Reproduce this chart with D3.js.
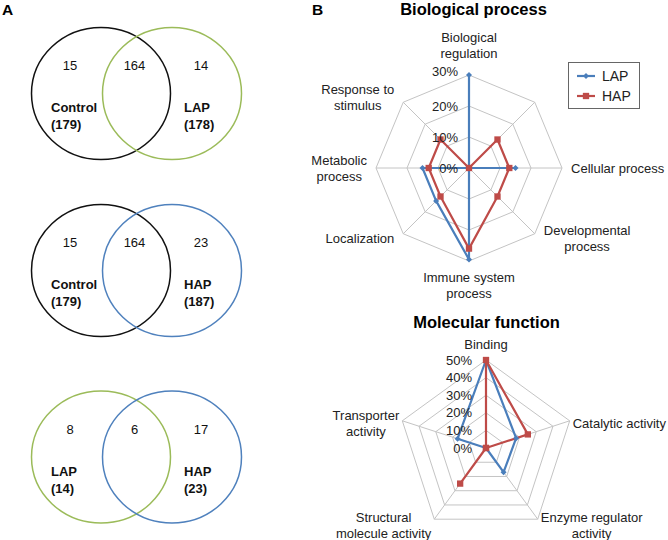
<!DOCTYPE html>
<html>
<head>
<meta charset="utf-8">
<script src="https://cdn.jsdelivr.net/npm/d3@7"></script>
<style>
  body { margin: 0; background: #fff; }
  svg { display: block; font-family: "Liberation Sans", Arial, sans-serif; }
</style>
</head>
<body>
<div id="chart"></div>
<script>
// ---- data ----
const vennLeftNames = ['Control', 'Control', 'LAP'];
const vennRightNames = ['LAP', 'HAP', 'HAP'];
const vennLeftTotals = [179, 179, 14];
const vennRightTotals = [178, 187, 23];
const vennCounts = [[15, 164, 14], [15, 164, 23], [8, 6, 17]];

const seriesNames = ['LAP', 'HAP'];

const bpCategories = [
  ['Biological', 'regulation'], [''], ['Cellular process'], ['Developmental', 'process'],
  ['Immune system', 'process'], ['Localization'], ['Metabolic', 'process'], ['Response to', 'stimulus']
];
const bpLAP = [30, 0, 15, 0, 29.5, 15, 15, 0];
const bpHAP = [0, 13, 13, 13, 26, 13, 13, 13];
const bpTicks = [0, 10, 20, 30];

const mfCategories = [
  ['Binding'], ['Catalytic activity'], ['Enzyme regulator', 'activity'],
  ['Structural', 'molecule activity'], ['Transporter', 'activity']
];
const mfLAP = [50, 18, 17, 0, 17];
const mfHAP = [50, 25, 0, 25, 0];
const mfTicks = [0, 10, 20, 30, 40, 50];

// ---- styles ----
const setColor = { Control: '#111', LAP: '#9bbb59', HAP: '#4f81bd' };
const seriesColor = { LAP: '#4a7ebb', HAP: '#be4b48' };
const gridColor = '#c4c4c4';

const width = 668, height = 540;
const svg = d3.select('#chart').append('svg')
  .attr('width', width).attr('height', height)
  .attr('viewBox', '0 0 ' + width + ' ' + height);

svg.append('text').attr('x', 2).attr('y', 15)
  .attr('font-size', 15.5).attr('font-weight', 'bold').text('A');
svg.append('text').attr('x', 312).attr('y', 15)
  .attr('font-size', 15.5).attr('font-weight', 'bold').text('B');

/**
 * Venn diagrams
 */
const vennCy = [93.5, 270.5, 457];
const cx1 = 101, cx2 = 172, rx = 69.5, ry = 66;

vennCounts.forEach((counts, i) => {
  const g = svg.append('g').attr('transform', 'translate(0,' + vennCy[i] + ')');
  const sets = [
    { name: vennLeftNames[i], total: vennLeftTotals[i], cx: cx1, tx: cx1 - 50 },
    { name: vennRightNames[i], total: vennRightTotals[i], cx: cx2, tx: cx2 + 12 }
  ];

  g.selectAll('ellipse')
    .data(sets)
    .enter()
    .append('ellipse')
    .attr('cx', d => d.cx)
    .attr('cy', 0)
    .attr('rx', rx)
    .attr('ry', ry)
    .attr('fill', 'none')
    .attr('stroke', d => setColor[d.name])
    .attr('stroke-width', 1.5);

  const countX = [cx1 - 31, (cx1 + cx2) / 2 - 2, cx2 + 29];
  g.selectAll('.count')
    .data(counts)
    .enter()
    .append('text')
    .attr('class', 'count')
    .attr('x', (d, k) => countX[k])
    .attr('y', -28 + 4.5)
    .attr('text-anchor', 'middle')
    .attr('font-size', 13)
    .attr('fill', '#111')
    .text(d => d);

  const lab = g.selectAll('.setlabel')
    .data(sets)
    .enter()
    .append('text')
    .attr('class', 'setlabel')
    .attr('font-size', 13)
    .attr('font-weight', 'bold')
    .attr('fill', '#111');
  lab.append('tspan').attr('x', d => d.tx).attr('y', 14 + 4.5).text(d => d.name);
  lab.append('tspan').attr('x', d => d.tx).attr('y', 31 + 4.5).text(d => '(' + d.total + ')');
});

/**
 * Radar charts
 */
function drawRadar(opts) {
  const n = opts.categories.length;
  const step = 2 * Math.PI / n;
  const maxV = d3.max(opts.ticks);
  const r = d3.scaleLinear().domain([0, maxV]).range([0, opts.radius]);
  const g = svg.append('g').attr('transform', 'translate(' + opts.cx + ',' + opts.cy + ')');

  svg.append('text')
    .attr('x', opts.titleX).attr('y', opts.titleY)
    .attr('text-anchor', 'middle')
    .attr('font-size', 16.5).attr('font-weight', 'bold')
    .text(opts.title);

  const idx = d3.range(n);
  const ring = v => d3.lineRadial()
    .angle(i => i * step)
    .radius(() => r(v))
    .curve(d3.curveLinearClosed)(idx);

  g.selectAll('.ring')
    .data(opts.ticks.filter(v => v > 0))
    .enter()
    .append('path')
    .attr('class', 'ring')
    .attr('d', ring)
    .attr('fill', 'none')
    .attr('stroke', gridColor)
    .attr('stroke-width', 1);

  g.selectAll('.spoke')
    .data(idx)
    .enter()
    .append('line')
    .attr('class', 'spoke')
    .attr('x1', 0).attr('y1', 0)
    .attr('x2', i => r(maxV) * Math.sin(i * step))
    .attr('y2', i => -r(maxV) * Math.cos(i * step))
    .attr('stroke', gridColor)
    .attr('stroke-width', 1);

  // category labels
  const lineH = 16;
  opts.categories.forEach((lines, i) => {
    const a = i * step;
    const sx = Math.sin(a), sy = -Math.cos(a);
    const vx = r(maxV) * sx, vy = r(maxV) * sy;
    const t = g.append('text')
      .attr('text-anchor', 'middle')
      .attr('font-size', 13)
      .attr('fill', '#222');
    lines.forEach((l, k) => t.append('tspan').attr('x', 0).attr('dy', k ? lineH : 0).text(l));
    const w = d3.max(t.selectAll('tspan').nodes(), nd => nd.getComputedTextLength()) || 0;
    const h = lines.length * lineH;
    let x, yTop;
    if (Math.abs(sx) < 0.1) {
      x = vx;
      yTop = sy < 0 ? vy - opts.gapTop - h : vy + opts.gapBottom;
    } else {
      x = vx + Math.sign(sx) * (opts.pad + w / 2);
      yTop = vy + sy * opts.vk + opts.vc - h / 2;
    }
    t.attr('transform', 'translate(' + x + ',' + (yTop + lineH / 2 + 4.5) + ')');
  });

  // series
  const series = [opts.lap, opts.hap];
  series.forEach((vals, s) => {
    const name = seriesNames[s];
    const line = d3.lineRadial()
      .angle((d, i) => i * step)
      .radius(d => r(d))
      .curve(d3.curveLinearClosed);
    g.append('path')
      .attr('d', line(vals))
      .attr('fill', 'none')
      .attr('stroke', seriesColor[name])
      .attr('stroke-width', 2.2)
      .attr('stroke-linejoin', 'round');
  });
  series.forEach((vals, s) => {
    const name = seriesNames[s];
    g.selectAll('.mk-' + name)
      .data(vals)
      .enter()
      .append('path')
      .attr('class', 'mk-' + name)
      .attr('d', d3.symbol(d3.symbolSquare, name === 'LAP' ? 18 : 40)())
      .attr('transform', (d, i) => 'translate(' + (r(d) * Math.sin(i * step)) + ',' +
        (-r(d) * Math.cos(i * step)) + ')' + (name === 'LAP' ? ' rotate(45)' : ''))
      .attr('fill', seriesColor[name]);
  });

  // tick labels
  g.selectAll('.tick')
    .data(opts.ticks)
    .enter()
    .append('text')
    .attr('class', 'tick')
    .attr('x', -opts.tickDx)
    .attr('y', d => -r(d) + 4.5 + (d === maxV ? opts.topTickDy : 0))
    .attr('text-anchor', 'end')
    .attr('font-size', 13)
    .attr('fill', '#222')
    .text(d => d + '%');
}

drawRadar({
  title: 'Biological process', titleX: 473.5, titleY: 15,
  categories: bpCategories, lap: bpLAP, hap: bpHAP, ticks: bpTicks,
  cx: 469, cy: 168, radius: 93,
  pad: 9, vk: 7, vc: 0, gapTop: 14, gapBottom: 8,
  tickDx: 11, topTickDy: -4
});

drawRadar({
  title: 'Molecular function', titleX: 486.5, titleY: 328,
  categories: mfCategories, lap: mfLAP, hap: mfHAP, ticks: mfTicks,
  cx: 486, cy: 448, radius: 88,
  pad: 3, vk: 3, vc: 4, gapTop: 8, gapBottom: 8,
  tickDx: 14, topTickDy: 0
});

/**
 * Legend
 */
const legend = svg.append('g').attr('transform', 'translate(568,62)');
legend.append('rect')
  .attr('x', 0.5).attr('y', 0.5)
  .attr('width', 71).attr('height', 46)
  .attr('fill', '#fff')
  .attr('stroke', '#666')
  .attr('stroke-width', 1);
const item = legend.selectAll('.item')
  .data(seriesNames)
  .enter()
  .append('g')
  .attr('class', 'item')
  .attr('transform', (d, i) => 'translate(0,' + (14 + i * 20) + ')');
item.append('line')
  .attr('x1', 9).attr('x2', 27)
  .attr('stroke', d => seriesColor[d])
  .attr('stroke-width', 2.2);
item.append('path')
  .attr('d', d => d3.symbol(d3.symbolSquare, d === 'LAP' ? 18 : 40)())
  .attr('transform', d => 'translate(18,0)' + (d === 'LAP' ? ' rotate(45)' : ''))
  .attr('fill', d => seriesColor[d]);
item.append('text')
  .attr('x', 34).attr('y', 5)
  .attr('font-size', 14)
  .attr('fill', '#222')
  .text(d => d);
</script>
</body>
</html>
